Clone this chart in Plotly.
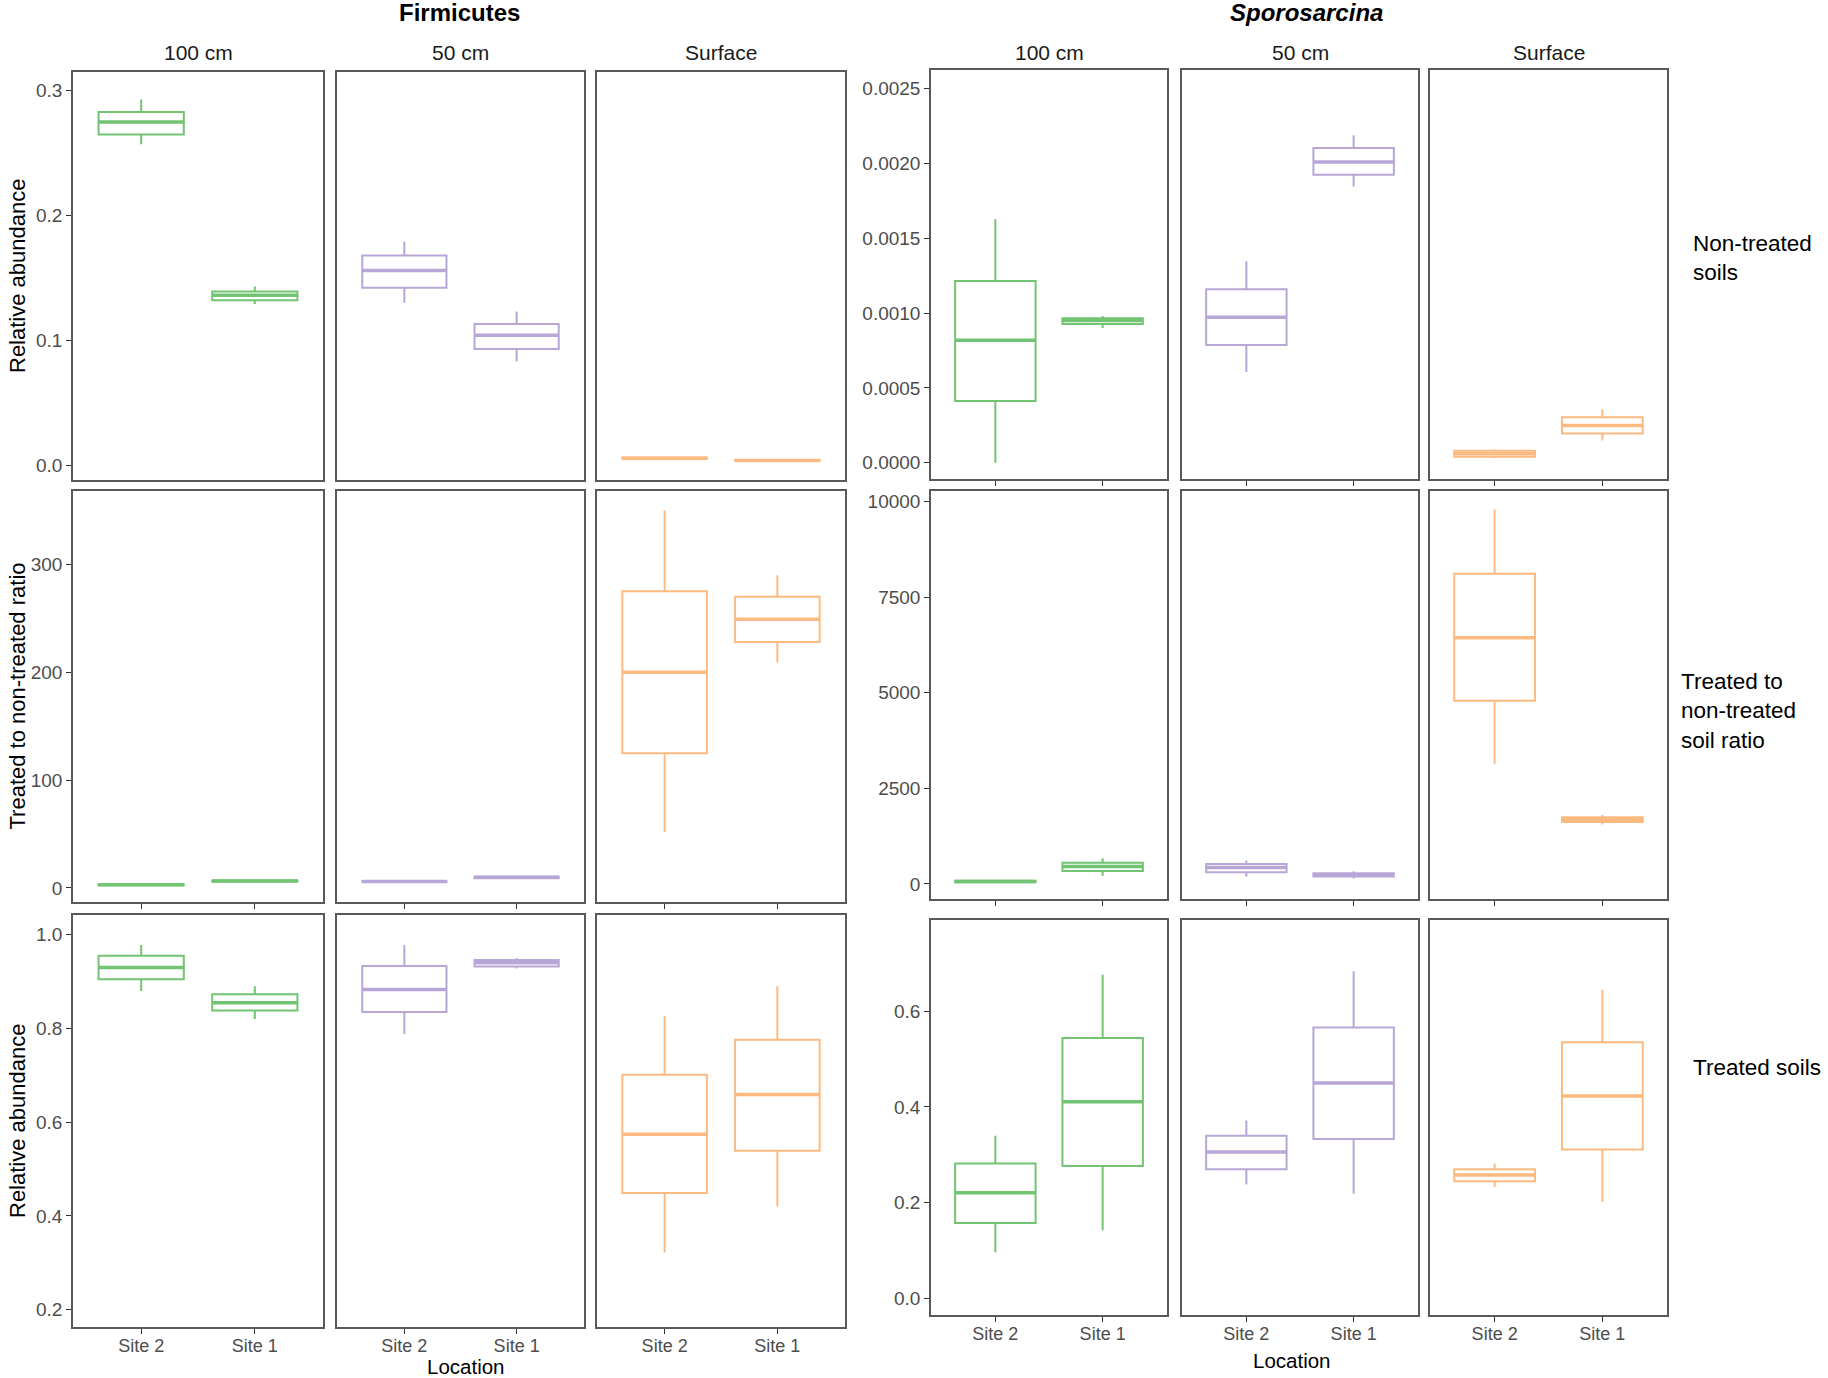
import plotly.graph_objects as go

W, H = 1828, 1378

sites = ["Site 2", "Site 1"]
depths = ["100 cm", "50 cm", "Surface"]
depth_colors = ["#72C473", "#B8A6D7", "#FDBA80"]
taxa = ["<b>Firmicutes</b>", "<b><i>Sporosarcina</i></b>"]
row_labels = ["Non-treated<br>soils", "Treated to<br>non-treated<br>soil ratio", "Treated soils"]
y_titles = ["Relative abundance", "Treated to non-treated ratio", "Relative abundance"]

# each box: (lower whisker, q1, median, q3, upper whisker) for [Site 2, Site 1], one pair per depth
firm_nontreated = [
    [(0.257, 0.265, 0.275, 0.283, 0.293), (0.129, 0.132, 0.136, 0.139, 0.143)],
    [(0.130, 0.142, 0.156, 0.168, 0.179), (0.083, 0.093, 0.104, 0.113, 0.123)],
    [(0.0046, 0.0050, 0.0055, 0.0060, 0.0064), (0.0029, 0.0032, 0.0036, 0.0040, 0.0043)],
]
firm_ratio = [
    [(2.0, 2.5, 3.0, 3.5, 4.0), (5.5, 6.0, 6.5, 7.0, 7.5)],
    [(5.0, 5.5, 6.0, 6.5, 7.0), (8.5, 9.0, 10.0, 10.5, 11.5)],
    [(52, 125, 200, 275, 350), (209, 228, 249, 270, 290)],
]
firm_treated = [
    [(0.880, 0.905, 0.930, 0.955, 0.978), (0.820, 0.838, 0.855, 0.873, 0.890)],
    [(0.788, 0.835, 0.883, 0.933, 0.978), (0.928, 0.932, 0.940, 0.946, 0.950)],
    [(0.322, 0.449, 0.574, 0.701, 0.826), (0.420, 0.539, 0.659, 0.776, 0.890)],
]
spor_nontreated = [
    [(0.0, 0.000413, 0.000818, 0.001215, 0.001628), (0.00090, 0.000927, 0.00095, 0.000966, 0.00098)],
    [(0.000607, 0.000787, 0.000973, 0.00116, 0.001347), (0.001846, 0.001924, 0.00201, 0.002103, 0.002188)],
    [(0.00003, 0.00004, 0.00006, 0.00008, 0.00009), (0.000148, 0.000195, 0.000249, 0.000304, 0.000358)],
]
spor_ratio = [
    [(20, 40, 60, 80, 100), (213, 335, 457, 549, 670)],
    [(183, 305, 427, 518, 610), (140, 190, 230, 280, 330)],
    [(3140, 4787, 6433, 8110, 9787), (1550, 1620, 1680, 1740, 1800)],
]
spor_treated = [
    [(0.097, 0.158, 0.221, 0.282, 0.340), (0.143, 0.277, 0.411, 0.544, 0.676)],
    [(0.238, 0.270, 0.306, 0.340, 0.372), (0.219, 0.333, 0.450, 0.566, 0.683)],
    [(0.233, 0.245, 0.258, 0.270, 0.282), (0.202, 0.311, 0.423, 0.535, 0.644)],
]

firm_ticks = [[0.0, 0.1, 0.2, 0.3], [0, 100, 200, 300], [0.2, 0.4, 0.6, 0.8, 1.0]]
spor_ticks = [[0, 0.0005, 0.001, 0.0015, 0.002, 0.0025], [0, 2500, 5000, 7500, 10000], [0.0, 0.2, 0.4, 0.6]]

data = [[firm_nontreated, firm_ratio, firm_treated], [spor_nontreated, spor_ratio, spor_treated]]
ticks = [firm_ticks, spor_ticks]
tick_fmt = [[".1f", "d", ".1f"], [".4f", "d", ".1f"]]
y_ranges = [[[-0.012, 0.315], [-13, 368], [0.163, 1.042]],
            [[-0.000109, 0.002625], [-396, 10274], [-0.034, 0.790]]]

# panel geometry in pixels of the 1828x1378 page
col_px = [[(73, 323), (337, 584), (597, 845)], [(931, 1167), (1182, 1418), (1430, 1667)]]
row_px = [[(72, 480), (491, 902), (915, 1327)], [(70, 479), (491, 899), (920, 1315)]]

FONT = "Arial, Liberation Sans, sans-serif"
TICK = dict(family=FONT, size=19, color="#4D4D4D")
XTICK = dict(family=FONT, size=18, color="#4D4D4D")


def fx(px):
    return px / W


def fy(px):
    return 1 - px / H


def note(text, x, y, size, **kw):
    d = dict(text=text, x=fx(x), y=fy(y), xref="paper", yref="paper",
             xanchor="center", yanchor="middle", showarrow=False,
             font=dict(family=FONT, size=size, color="black"))
    d.update(kw)
    return d


fig = go.Figure()
layout = {}

for g in range(2):
    for r in range(3):
        for c in range(3):
            n = g * 9 + r * 3 + c + 1
            sfx = "" if n == 1 else str(n)
            boxes = data[g][r][c]
            meds = [b[2] for b in boxes]
            fig.add_trace(go.Box(
                x=sites,
                lowerfence=[b[0] for b in boxes],
                q1=[b[1] for b in boxes],
                median=meds,
                q3=[b[3] for b in boxes],
                upperfence=[b[4] for b in boxes],
                width=0.75,
                whiskerwidth=0,
                boxpoints=False,
                fillcolor="rgba(255,255,255,0)",
                line=dict(color=depth_colors[c], width=2),
                showlegend=False,
                hoverinfo="skip",
                xaxis="x" + sfx,
                yaxis="y" + sfx,
            ))
            # ggplot draws the median thicker than the box outline
            fig.add_trace(go.Box(
                x=sites, lowerfence=meds, q1=meds, median=meds, q3=meds, upperfence=meds,
                width=0.75, whiskerwidth=0, boxpoints=False,
                fillcolor="rgba(255,255,255,0)",
                line=dict(color=depth_colors[c], width=3.5),
                showlegend=False, hoverinfo="skip",
                xaxis="x" + sfx, yaxis="y" + sfx,
            ))
            x0, x1 = col_px[g][c]
            y0, y1 = row_px[g][r]
            first = g * 9 + r * 3 + 1
            show_xt = not (g == 0 and r == 0)
            layout["xaxis" + sfx] = dict(
                domain=[fx(x0), fx(x1)], anchor="y" + sfx,
                type="category", categoryorder="array", categoryarray=sites,
                range=[-0.6, 1.6], showgrid=False, zeroline=False,
                showline=True, mirror=True, linecolor="#595959", linewidth=1.5,
                ticks="outside" if show_xt else "", ticklen=5, tickcolor="#333333",
                showticklabels=(r == 2), tickfont=XTICK, ticklabelstandoff=-3,
            )
            layout["yaxis" + sfx] = dict(
                domain=[fy(y1), fy(y0)], anchor="x" + sfx,
                range=y_ranges[g][r], showgrid=False, zeroline=False,
                showline=True, mirror=True, linecolor="#595959", linewidth=1.5,
                tickvals=ticks[g][r], tickformat=tick_fmt[g][r],
                ticks="outside" if c == 0 else "", ticklen=5, tickcolor="#333333",
                showticklabels=(c == 0), tickfont=TICK,
            )
            if c > 0:
                layout["yaxis" + sfx]["matches"] = "y" + ("" if first == 1 else str(first))

annotations = []
title_x = [460, 1306]
for g in range(2):
    annotations.append(note(taxa[g], title_x[g], 13, 24))
    for c in range(3):
        x0, x1 = col_px[g][c]
        annotations.append(note(depths[c], (x0 + x1) / 2, 53, 21, font=dict(family=FONT, size=21, color="#1A1A1A")))

loc_pos = [(466, 1366), (1292, 1360)]
for g in range(2):
    annotations.append(note("Location", loc_pos[g][0], loc_pos[g][1], 20.5))

for r in range(3):
    y0, y1 = row_px[0][r]
    annotations.append(note(y_titles[r], 17, (y0 + y1) / 2, 22, textangle=-90))

label_pos = [(1691, 258), (1679, 711), (1691, 1067)]
for r in range(3):
    annotations.append(note(row_labels[r], label_pos[r][0], label_pos[r][1], 22.5,
                            xanchor="left", align="left"))

fig.update_layout(
    width=W, height=H,
    margin=dict(l=0, r=0, t=0, b=0),
    paper_bgcolor="white", plot_bgcolor="white",
    boxmode="overlay",
    annotations=annotations,
    **layout,
)

# drop the browser's default 8px body margin so the figure fills the window exactly
fig.write_html("out.html", config={"displayModeBar": False},
               post_script="document.body.style.margin='0';")
